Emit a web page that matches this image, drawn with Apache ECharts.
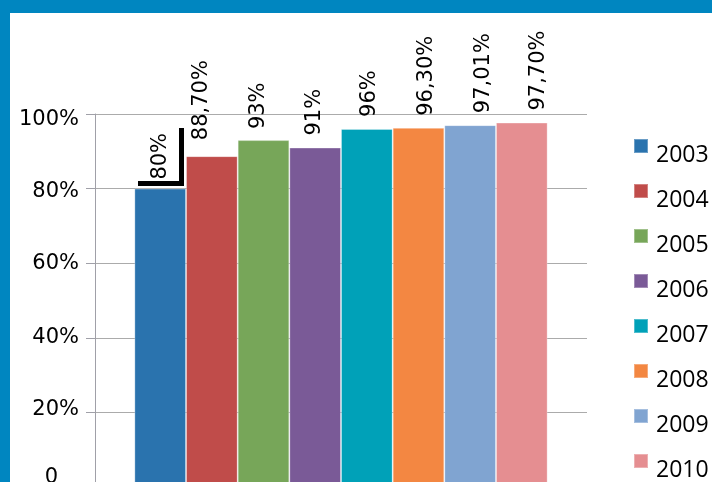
<!DOCTYPE html>
<html>
<head>
<meta charset="utf-8">
<script src="https://cdn.jsdelivr.net/npm/echarts@6/dist/echarts.min.js"></script>
<style>
html,body{margin:0;padding:0;background:#fff;}
#chart{width:712px;height:482px;}
</style>
</head>
<body>
<div id="chart"></div>
<script>
// ---- data ----
var categories = [''];
var years = ['2003', '2004', '2005', '2006', '2007', '2008', '2009', '2010'];
var values = [0.80, 0.887, 0.93, 0.91, 0.96, 0.963, 0.9701, 0.977];
var valueLabels = ['80%', '88,70%', '93%', '91%', '96%', '96,30%', '97,01%', '97,70%'];

// ---- styling ----
var colors = ['#2a73ae', '#c04c4a', '#77a659', '#7a5a97', '#00a1b8', '#f38742', '#80a4d1', '#e58e91'];
var labelShiftX = [0, -10, -5, -1, 3, 8, 13, 17];
var labelGap = [9, 16, 11, 12, 12, 12, 12, 12];

var chart = echarts.init(document.getElementById('chart'), null, {renderer: 'canvas'});

var series = years.map(function (y, i) {
  return {
    name: y,
    type: 'bar',
    data: [values[i]],
    barGap: '0%',
    barCategoryGap: '16%',
    itemStyle: {color: colors[i], borderColor: 'rgba(255,255,255,0.3)', borderWidth: 1},
    label: {
      show: true,
      position: 'top',
      rotate: 90,
      align: 'left',
      verticalAlign: 'middle',
      distance: labelGap[i],
      offset: [0, labelShiftX[i]],
      formatter: valueLabels[i],
      fontFamily: 'DejaVu Sans',
      fontSize: 21,
      color: '#000'
    },
    emphasis: {disabled: true}
  };
});

var axisFont = {fontFamily: 'DejaVu Sans', fontSize: 21, color: '#000'};
function rs(pad) { return Object.assign({padding: pad}, axisFont); }

var option = {
  animation: false,
  backgroundColor: '#fff',
  grid: {left: 95, top: 114, width: 492, height: 373, containLabel: false, outerBoundsMode: 'none'},
  xAxis: {
    type: 'category',
    data: categories,
    axisLine: {show: false},
    axisTick: {show: false},
    axisLabel: {show: false}
  },
  yAxis: {
    type: 'value',
    min: 0,
    max: 1,
    interval: 0.2,
    axisLine: {show: true, lineStyle: {color: '#a0a0a8', width: 1}},
    axisTick: {show: true, inside: false, length: 9, lineStyle: {color: '#a0a0a8'}},
    splitLine: {show: true, lineStyle: {color: '#ababab', width: 1}},
    axisLabel: {
      margin: 16,
      fontFamily: 'DejaVu Sans',
      fontSize: 21,
      color: '#000',
      formatter: function (v) {
        var p = Math.round(v * 100);
        if (p === 0) return '{z|0}';
        if (p === 100) return '{a|100%}';
        if (p === 80) return '{b|80%}';
        if (p === 20) return '{c|20%}';
        return p + '%';
      },
      rich: {
        z: rs([0, 21, 18, 0]),
        a: rs([12, 0, 0, 0]),
        b: rs([5, 0, 0, 0]),
        c: rs([0, 0, 6, 0])
      }
    }
  },
  legend: {
    orient: 'vertical',
    left: 628,
    top: 133,
    height: 420,
    itemWidth: 14,
    itemHeight: 14,
    itemGap: 16.5,
    icon: 'rect',
    data: years,
    formatter: '{t|{name}}',
    textStyle: {
      fontFamily: 'Open Sans', fontSize: 23, color: '#000',
      rich: {t: {fontFamily: 'Open Sans', fontSize: 23, color: '#000', padding: [18, 0, 0, 3]}}
    },
    selectedMode: false
  },
  graphic: [
    {type: 'rect', z: 100, shape: {x: 0, y: 0, width: 712, height: 13}, style: {fill: '#0086c0'}},
    {type: 'rect', z: 100, shape: {x: 0, y: 0, width: 10, height: 482}, style: {fill: '#0086c0'}},
    {type: 'rect', z: 100, shape: {x: 179, y: 128, width: 5, height: 58}, style: {fill: '#000'}},
    {type: 'rect', z: 100, shape: {x: 138, y: 181, width: 46, height: 5}, style: {fill: '#000'}}
  ],
  series: series
};
chart.setOption(option);
</script>
</body>
</html>
